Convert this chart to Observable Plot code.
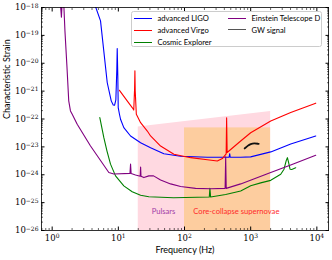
<!DOCTYPE html>
<html><head><meta charset="utf-8">
<script src="https://cdn.jsdelivr.net/npm/d3@7"></script>
<script src="https://cdn.jsdelivr.net/npm/@observablehq/plot@0.6"></script>
<style>
body{margin:0;background:#fff}
#wrap{position:relative;width:332px;height:260px;font-family:Lato,"DejaVu Sans",sans-serif}
#legend{position:absolute;left:130.5px;top:11px;width:191px;height:36px;border:0.8px solid #ccc;border-radius:2.5px;background:rgba(255,255,255,0.85);box-sizing:border-box}
#legend .e{position:absolute;font-size:7.6px;line-height:9px;color:#000;white-space:nowrap}
#legend .l{position:absolute;height:0;border-top-style:solid}
</style>
</head><body><div id="wrap"></div>
<script>
// ---- data ----
const ligoFreq   = [4.21,5.38,6.79,7.81,8.37,8.76,9.17,9.49,9.62,9.82,9.96,10.4,10.8,12.1,15.3,21.7,30.7,48.8,87.3,221,473,482,490,706,1000,2009,4027,9620];
const ligoStrain = [1.74e-18,3.3e-19,2.04e-21,4.47e-22,3.16e-22,3.1e-22,4.9e-22,6e-21,3.4e-20,3.55e-21,2.57e-22,1.48e-22,9.8e-23,4.9e-23,2.46e-23,1.41e-23,9.3e-24,5.7e-24,4.6e-24,4.27e-24,4.27e-24,5.7e-24,4.27e-24,4.27e-24,4.37e-24,6.6e-24,1.26e-23,2.46e-23];

const virgoFreq   = [10.4,13.6,16.2,17.1,17.6,17.8,18.0,18.7,19.3,21.7,27.4,30.7,43.5,69.2,124,221,313,373,426,433,441,706,1000,2009,4027,9620];
const virgoStrain = [1.07e-21,4.47e-22,2.57e-22,2.09e-22,1.2e-21,5.4e-21,1e-21,1.48e-22,1.29e-22,7.4e-23,3.7e-23,2.46e-23,1.07e-23,5.4e-24,4.1e-24,3.47e-24,3.1e-24,3.8e-24,5.6e-24,1.1e-22,6.3e-24,1.62e-23,3.2e-23,8.5e-23,1.7e-22,3.7e-22];

const ceFreq   = [5.25,6.04,6.74,7.62,9.07,12.1,16.2,21.7,28.9,68.4,237,242,248,419,706,1000,1417,2009,2845,3190,3445,3590,3760,3935,4170,4795];
const ceStrain = [1.12e-22,2.14e-23,7.1e-24,2.4e-24,9.1e-25,4.0e-25,2.47e-25,1.83e-25,1.63e-25,1.5e-25,1.59e-25,3.25e-25,1.59e-25,1.95e-25,2.6e-25,4.0e-25,5.1e-25,6.3e-25,1.04e-24,1.58e-24,3.2e-24,4.1e-24,2.6e-24,1.58e-24,1.55e-24,1.78e-24];

const etFreq   = [1.29,1.38,1.43,1.48,1.56,1.67,1.78,1.89,2.01,2.39,3.8,7.18,8.55,15.0,15.3,15.6,18.2,21.4,21.7,22.0,24.3,28.9,34.1,43.5,61.6,87.3,147,248,411,419,427,706,2009,4027,9620];
const etStrain = [4e-18,4.45e-19,2.6e-18,2.6e-18,1.45e-19,8.1e-21,4.47e-22,1.95e-22,1.48e-22,6.5e-23,1.07e-23,1.2e-24,1.07e-24,1.12e-24,2.4e-24,1.1e-24,9.8e-25,8.9e-25,1.9e-24,8.9e-25,7.9e-25,9.1e-25,9.1e-25,6.5e-25,4.7e-25,3.8e-25,3.25e-25,3.16e-25,3.25e-25,4.37e-24,3.25e-25,4.7e-25,1.2e-24,2.25e-24,5.0e-24];

const gwFreq   = [811,901,1000,1130,1321];
const gwStrain = [8.8e-24,1.1e-23,1.28e-23,1.36e-23,1.28e-23];

const pulsarFreq = [20,2000];
const pulsarTop  = [5.2e-23,1.85e-22];
const ccsnFreq   = [100,2000];
const ccsnTop    = 4.8e-23;
const regionLabels = ["Pulsars","Core-collapse supernovae"];
const regionLabelFreq = [32,136];
const regionLabelStrain = 4.6e-26;
const regionLabelColors = ["#a23ca8","#ff2a2a"];

const seriesNames  = ["advanced LIGO","advanced Virgo","Cosmic Explorer","Einstein Telescope D","GW signal"];
const seriesColors = ["#0000ff","#ff0000","#008000","#800080","#000000"];

const xMajor = [1,10,100,1000,10000];
const yMajor = [1e-26,1e-25,1e-24,1e-23,1e-22,1e-21,1e-20,1e-19,1e-18];
const xDomain = [0.69,15000], yDomain = [1e-26,1e-18];

// ---- helpers ----
const tab = (f, s) => f.map((v,i) => ({f: v, h: s[i]}));
const minorOf = (lo, hi, kmin, kmax) => {
  const out = [];
  for (let k = kmin; k <= kmax; k++) for (let m = 2; m <= 9; m++) {
    const v = m * Math.pow(10, k);
    if (v >= lo && v <= hi) out.push(v);
  }
  return out;
};
const xMinor = minorOf(xDomain[0], xDomain[1], -1, 4);
const yMinor = minorOf(yDomain[0], yDomain[1], -26, -19);
const fmt = d => "10^" + String(Math.round(Math.log10(d))).replace("-", "−");

const pulsarData = tab(pulsarFreq, pulsarTop);
const lineOpts = (color) => ({x: "f", y: "h", stroke: color, strokeWidth: 1.1, clip: true});
const tickFont = {fontFamily: "'DejaVu Serif', serif", fontSize: 8.5};

const plot = Plot.plot({
  width: 332, height: 260,
  marginLeft: 41, marginRight: 4, marginTop: 7, marginBottom: 30,
  style: {background: "transparent", fontFamily: "Lato, sans-serif"},
  x: {type: "log", domain: xDomain, label: null},
  y: {type: "log", domain: yDomain, label: null},
  marks: [
    Plot.areaY(pulsarData, {x: "f", y1: 1e-27, y2: "h", fill: "#ffd9e1", clip: true}),
    Plot.rect([{x1: ccsnFreq[0], x2: ccsnFreq[1], y2: ccsnTop}], {x1: "x1", x2: "x2", y1: 1e-27, y2: "y2", fill: "#fdcd9f", clip: true}),
    Plot.line(tab(ligoFreq, ligoStrain), lineOpts(seriesColors[0])),
    Plot.line(tab(virgoFreq, virgoStrain), lineOpts(seriesColors[1])),
    Plot.line(tab(ceFreq, ceStrain), lineOpts(seriesColors[2])),
    Plot.line(tab(etFreq, etStrain), lineOpts(seriesColors[3])),
    Plot.line(tab(gwFreq, gwStrain), {x: "f", y: "h", stroke: "#111", strokeWidth: 1.8, curve: "basis", clip: true}),
    Plot.text(regionLabels, {x: (d,i) => regionLabelFreq[i], y: regionLabelStrain, text: d => d, fill: (d,i) => regionLabelColors[i], textAnchor: "start", fontSize: 7.6}),
    Plot.frame({stroke: "#000", strokeWidth: 0.8}),
    // tick labels
    Plot.axisX(xMajor, {anchor: "bottom", tickSize: 0, tickPadding: 4, tickFormat: fmt, label: null, ...tickFont}),
    Plot.axisY(yMajor, {anchor: "left", tickSize: 0, tickPadding: 3, tickFormat: fmt, label: null, ...tickFont}),
    // inward ticks
    Plot.axisX(xMajor, {anchor: "bottom", tickSize: -3.5, text: null, label: null}),
    Plot.axisX(xMajor, {anchor: "top", tickSize: -3.5, text: null, label: null}),
    Plot.axisX(xMinor, {anchor: "bottom", tickSize: -2, strokeWidth: 0.6, text: null, label: null}),
    Plot.axisX(xMinor, {anchor: "top", tickSize: -2, strokeWidth: 0.6, text: null, label: null}),
    Plot.axisY(yMajor, {anchor: "left", tickSize: -3.5, text: null, label: null}),
    Plot.axisY(yMajor, {anchor: "right", tickSize: -3.5, text: null, label: null}),
    Plot.axisY(yMinor, {anchor: "left", tickSize: -2, strokeWidth: 0.6, text: null, label: null}),
    Plot.axisY(yMinor, {anchor: "right", tickSize: -2, strokeWidth: 0.6, text: null, label: null}),
    // axis titles
    Plot.text(["Frequency (Hz)"], {frameAnchor: "bottom", dy: 22, text: d => d, fontSize: 9, fill: "#000"}),
    Plot.text(["Characteristic Strain"], {frameAnchor: "left", dx: -34, rotate: -90, text: d => d, fontSize: 9, fill: "#000"})
  ]
});
// render exponents as superscripts
plot.querySelectorAll("text").forEach(t => {
  const s = t.textContent;
  if (!s.startsWith("10^")) return;
  const exp = s.slice(3);
  while (t.firstChild) t.removeChild(t.firstChild);
  const base = document.createElementNS("http://www.w3.org/2000/svg", "tspan");
  base.textContent = "10";
  const sup = document.createElementNS("http://www.w3.org/2000/svg", "tspan");
  sup.textContent = exp;
  sup.setAttribute("font-size", "6");
  sup.setAttribute("dy", "-0.45em");
  t.appendChild(base); t.appendChild(sup);
});
const wrap = document.getElementById("wrap");
wrap.appendChild(plot);

// legend
const leg = document.createElement("div");
leg.id = "legend";
const pos = [[2.6,6.7,26],[2.6,18.3,26],[2.6,30.3,26],[96,6.7,120],[96,18.3,120]];
seriesNames.forEach((n, i) => {
  const [lx, ly, tx] = pos[i];
  const l = document.createElement("div");
  l.className = "l";
  const w = i === 4 ? 1.8 : 1.1;
  l.style.cssText = `left:${lx}px;top:${ly - w/2}px;width:18px;border-top-width:${w}px;border-top-color:${i===4?"#555":seriesColors[i]}`;
  leg.appendChild(l);
  const t = document.createElement("div");
  t.className = "e";
  t.textContent = n;
  t.style.left = tx + "px";
  t.style.top = (ly - 4.8) + "px";
  leg.appendChild(t);
});
wrap.appendChild(leg);
</script></body></html>
